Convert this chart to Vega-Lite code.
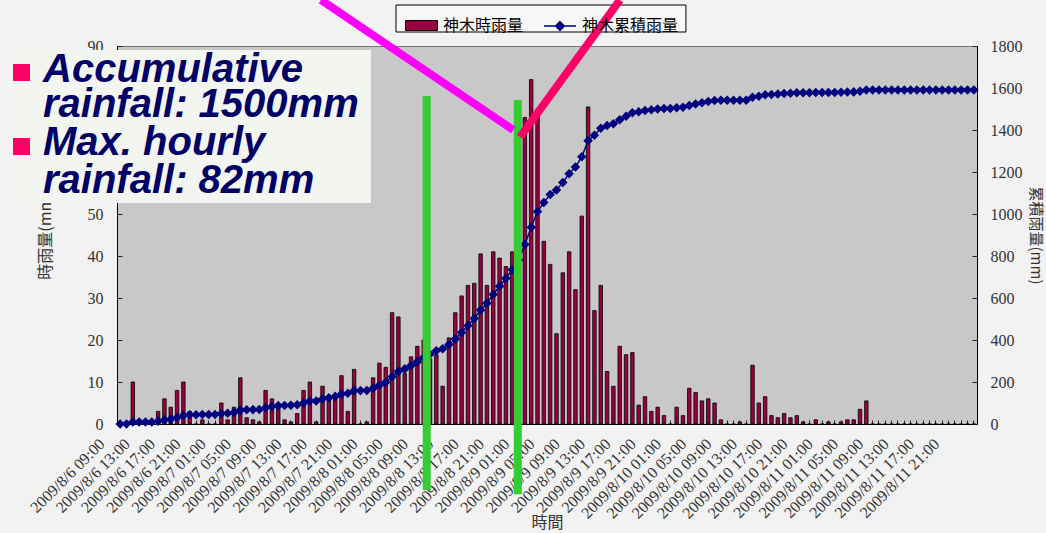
{
  "$schema": "https://vega.github.io/schema/vega-lite/v6.json",
  "width": 860,
  "height": 378,
  "autosize": {"type": "none"},
  "padding": {"left": 117, "top": 46, "right": 69, "bottom": 109},
  "background": "#f2f2f2",
  "config": {
    "view": {"fill": "#c8c8c8", "stroke": "#777777", "strokeWidth": 1},
    "axis": {"grid": false, "domainColor": "#000000", "domainWidth": 1, "tickColor": "#222222"}
  },
  "datasets": {
    "rain": [
      {"t": "2009/8/6 09:00", "r": 0, "c": 0},
      {"t": "2009/8/6 10:00", "r": 0, "c": 0},
      {"t": "2009/8/6 11:00", "r": 10, "c": 10},
      {"t": "2009/8/6 12:00", "r": 0, "c": 10},
      {"t": "2009/8/6 13:00", "r": 0, "c": 10},
      {"t": "2009/8/6 14:00", "r": 0, "c": 10},
      {"t": "2009/8/6 15:00", "r": 3, "c": 13},
      {"t": "2009/8/6 16:00", "r": 6, "c": 19},
      {"t": "2009/8/6 17:00", "r": 4, "c": 23},
      {"t": "2009/8/6 18:00", "r": 8, "c": 31},
      {"t": "2009/8/6 19:00", "r": 10, "c": 41},
      {"t": "2009/8/6 20:00", "r": 3, "c": 44},
      {"t": "2009/8/6 21:00", "r": 0, "c": 44},
      {"t": "2009/8/6 22:00", "r": 1, "c": 45},
      {"t": "2009/8/6 23:00", "r": 0, "c": 45},
      {"t": "2009/8/7 00:00", "r": 0, "c": 45},
      {"t": "2009/8/7 01:00", "r": 5, "c": 50},
      {"t": "2009/8/7 02:00", "r": 1, "c": 51},
      {"t": "2009/8/7 03:00", "r": 4, "c": 55},
      {"t": "2009/8/7 04:00", "r": 11, "c": 66},
      {"t": "2009/8/7 05:00", "r": 1.5, "c": 67.5},
      {"t": "2009/8/7 06:00", "r": 1, "c": 68.5},
      {"t": "2009/8/7 07:00", "r": 0.5, "c": 69},
      {"t": "2009/8/7 08:00", "r": 8, "c": 77},
      {"t": "2009/8/7 09:00", "r": 6, "c": 83},
      {"t": "2009/8/7 10:00", "r": 4.5, "c": 87.5},
      {"t": "2009/8/7 11:00", "r": 1, "c": 88.5},
      {"t": "2009/8/7 12:00", "r": 0.5, "c": 89},
      {"t": "2009/8/7 13:00", "r": 2.5, "c": 91.5},
      {"t": "2009/8/7 14:00", "r": 8, "c": 99.5},
      {"t": "2009/8/7 15:00", "r": 10, "c": 109.5},
      {"t": "2009/8/7 16:00", "r": 0.5, "c": 110},
      {"t": "2009/8/7 17:00", "r": 9, "c": 119},
      {"t": "2009/8/7 18:00", "r": 6, "c": 125},
      {"t": "2009/8/7 19:00", "r": 6.5, "c": 131.5},
      {"t": "2009/8/7 20:00", "r": 11.5, "c": 143},
      {"t": "2009/8/7 21:00", "r": 3, "c": 146},
      {"t": "2009/8/7 22:00", "r": 13, "c": 159},
      {"t": "2009/8/7 23:00", "r": 0, "c": 159},
      {"t": "2009/8/8 00:00", "r": 0.5, "c": 159.5},
      {"t": "2009/8/8 01:00", "r": 11, "c": 170.5},
      {"t": "2009/8/8 02:00", "r": 14.5, "c": 185},
      {"t": "2009/8/8 03:00", "r": 13.5, "c": 198.5},
      {"t": "2009/8/8 04:00", "r": 26.5, "c": 225},
      {"t": "2009/8/8 05:00", "r": 25.5, "c": 250.5},
      {"t": "2009/8/8 06:00", "r": 12, "c": 262.5},
      {"t": "2009/8/8 07:00", "r": 16, "c": 278.5},
      {"t": "2009/8/8 08:00", "r": 18.5, "c": 297},
      {"t": "2009/8/8 09:00", "r": 20, "c": 317},
      {"t": "2009/8/8 10:00", "r": 15.5, "c": 332.5},
      {"t": "2009/8/8 11:00", "r": 16.5, "c": 349},
      {"t": "2009/8/8 12:00", "r": 9, "c": 358},
      {"t": "2009/8/8 13:00", "r": 20.5, "c": 378.5},
      {"t": "2009/8/8 14:00", "r": 26.5, "c": 405},
      {"t": "2009/8/8 15:00", "r": 30.5, "c": 435.5},
      {"t": "2009/8/8 16:00", "r": 33, "c": 468.5},
      {"t": "2009/8/8 17:00", "r": 33.5, "c": 502},
      {"t": "2009/8/8 18:00", "r": 40.5, "c": 542.5},
      {"t": "2009/8/8 19:00", "r": 33, "c": 575.5},
      {"t": "2009/8/8 20:00", "r": 41, "c": 616.5},
      {"t": "2009/8/8 21:00", "r": 39.5, "c": 656},
      {"t": "2009/8/8 22:00", "r": 37.5, "c": 693.5},
      {"t": "2009/8/8 23:00", "r": 41, "c": 734.5},
      {"t": "2009/8/9 00:00", "r": 47, "c": 781.5},
      {"t": "2009/8/9 01:00", "r": 73, "c": 854.5},
      {"t": "2009/8/9 02:00", "r": 82, "c": 936.5},
      {"t": "2009/8/9 03:00", "r": 75, "c": 1011.5},
      {"t": "2009/8/9 04:00", "r": 43.5, "c": 1055},
      {"t": "2009/8/9 05:00", "r": 38, "c": 1093},
      {"t": "2009/8/9 06:00", "r": 21.5, "c": 1114.5},
      {"t": "2009/8/9 07:00", "r": 36, "c": 1150.5},
      {"t": "2009/8/9 08:00", "r": 41, "c": 1191.5},
      {"t": "2009/8/9 09:00", "r": 32, "c": 1223.5},
      {"t": "2009/8/9 10:00", "r": 49.5, "c": 1273},
      {"t": "2009/8/9 11:00", "r": 75.5, "c": 1348.5},
      {"t": "2009/8/9 12:00", "r": 27, "c": 1375.5},
      {"t": "2009/8/9 13:00", "r": 33, "c": 1408.5},
      {"t": "2009/8/9 14:00", "r": 12.5, "c": 1421},
      {"t": "2009/8/9 15:00", "r": 9, "c": 1430},
      {"t": "2009/8/9 16:00", "r": 18.5, "c": 1448.5},
      {"t": "2009/8/9 17:00", "r": 16.5, "c": 1465},
      {"t": "2009/8/9 18:00", "r": 17, "c": 1482},
      {"t": "2009/8/9 19:00", "r": 4.5, "c": 1486.5},
      {"t": "2009/8/9 20:00", "r": 6.5, "c": 1493},
      {"t": "2009/8/9 21:00", "r": 3, "c": 1496},
      {"t": "2009/8/9 22:00", "r": 4, "c": 1500},
      {"t": "2009/8/9 23:00", "r": 2, "c": 1502},
      {"t": "2009/8/10 00:00", "r": 0, "c": 1502},
      {"t": "2009/8/10 01:00", "r": 4, "c": 1506},
      {"t": "2009/8/10 02:00", "r": 2, "c": 1508},
      {"t": "2009/8/10 03:00", "r": 8.5, "c": 1516.5},
      {"t": "2009/8/10 04:00", "r": 7.5, "c": 1524},
      {"t": "2009/8/10 05:00", "r": 5.5, "c": 1529.5},
      {"t": "2009/8/10 06:00", "r": 6, "c": 1535.5},
      {"t": "2009/8/10 07:00", "r": 5, "c": 1540.5},
      {"t": "2009/8/10 08:00", "r": 1, "c": 1541.5},
      {"t": "2009/8/10 09:00", "r": 0, "c": 1541.5},
      {"t": "2009/8/10 10:00", "r": 0, "c": 1541.5},
      {"t": "2009/8/10 11:00", "r": 0.5, "c": 1542},
      {"t": "2009/8/10 12:00", "r": 0, "c": 1542},
      {"t": "2009/8/10 13:00", "r": 14, "c": 1556},
      {"t": "2009/8/10 14:00", "r": 5, "c": 1561},
      {"t": "2009/8/10 15:00", "r": 6.5, "c": 1567.5},
      {"t": "2009/8/10 16:00", "r": 2, "c": 1569.5},
      {"t": "2009/8/10 17:00", "r": 1.5, "c": 1571},
      {"t": "2009/8/10 18:00", "r": 2.5, "c": 1573.5},
      {"t": "2009/8/10 19:00", "r": 1.5, "c": 1575},
      {"t": "2009/8/10 20:00", "r": 2, "c": 1577},
      {"t": "2009/8/10 21:00", "r": 0.5, "c": 1577.5},
      {"t": "2009/8/10 22:00", "r": 0, "c": 1577.5},
      {"t": "2009/8/10 23:00", "r": 1, "c": 1578.5},
      {"t": "2009/8/11 00:00", "r": 0, "c": 1578.5},
      {"t": "2009/8/11 01:00", "r": 0.5, "c": 1579},
      {"t": "2009/8/11 02:00", "r": 0, "c": 1579},
      {"t": "2009/8/11 03:00", "r": 0.5, "c": 1579.5},
      {"t": "2009/8/11 04:00", "r": 1, "c": 1580.5},
      {"t": "2009/8/11 05:00", "r": 1, "c": 1581.5},
      {"t": "2009/8/11 06:00", "r": 3.5, "c": 1585},
      {"t": "2009/8/11 07:00", "r": 5.5, "c": 1590.5},
      {"t": "2009/8/11 08:00", "r": 0, "c": 1590.5},
      {"t": "2009/8/11 09:00", "r": 0, "c": 1590.5},
      {"t": "2009/8/11 10:00", "r": 0, "c": 1590.5},
      {"t": "2009/8/11 11:00", "r": 0, "c": 1590.5},
      {"t": "2009/8/11 12:00", "r": 0, "c": 1590.5},
      {"t": "2009/8/11 13:00", "r": 0, "c": 1590.5},
      {"t": "2009/8/11 14:00", "r": 0, "c": 1590.5},
      {"t": "2009/8/11 15:00", "r": 0, "c": 1590.5},
      {"t": "2009/8/11 16:00", "r": 0, "c": 1590.5},
      {"t": "2009/8/11 17:00", "r": 0, "c": 1590.5},
      {"t": "2009/8/11 18:00", "r": 0, "c": 1590.5},
      {"t": "2009/8/11 19:00", "r": 0, "c": 1590.5},
      {"t": "2009/8/11 20:00", "r": 0, "c": 1590.5},
      {"t": "2009/8/11 21:00", "r": 0, "c": 1590.5},
      {"t": "2009/8/11 22:00", "r": 0, "c": 1590.5},
      {"t": "2009/8/11 23:00", "r": 0, "c": 1590.5},
      {"t": "2009/8/12 00:00", "r": 0, "c": 1590.5}
    ],
    "legendbox": [{"x": 44.12, "x2": 89.97, "y": 99.76, "y2": 93.33}],
    "textbox": [{"x": -17.24, "x2": 40.16, "y": 89.05, "y2": 52.62}],
    "bullets": [
      {"x": -16.45, "x2": -13.76, "y": 85.71, "y2": 81.67},
      {"x": -16.45, "x2": -13.76, "y": 68.1, "y2": 64.05}
    ],
    "magenta": [{"x": 32.26, "y": 100.95, "x2": 62.67, "y2": 70.0}],
    "pinkline": [{"x": 63.73, "y": 68.33, "x2": 79.54, "y2": 100.95}],
    "greens": [
      {"x": 48.98, "y": 78.1, "y2": -15.7},
      {"x": 63.38, "y": 77.14, "y2": -16.7}
    ],
    "texts": [
      {"label": "Accumulative", "x": -11.7, "y": 81.43},
      {"label": "rainfall: 1500mm", "x": -11.7, "y": 73.1},
      {"label": "Max. hourly", "x": -11.7, "y": 64.05},
      {"label": "rainfall: 82mm", "x": -11.7, "y": 55.0}
    ]
  },
  "layer": [
    {
      "data": {"name": "rain"},
      "encoding": {
        "x": {
          "field": "t",
          "type": "ordinal",
          "sort": null,
          "scale": {"type": "band", "paddingInner": 0, "paddingOuter": 0},
          "axis": {
            "title": "時間",
            "titleFont": "Noto Sans CJK TC",
            "titleFontSize": 16,
            "titleFontWeight": "normal",
            "titleColor": "#333333",
            "titleY": 98,
            "titleBaseline": "middle",
            "labelAngle": -45,
            "labelAlign": "right",
            "labelBaseline": "middle",
            "labelFont": "Liberation Serif",
            "labelFontSize": 16,
            "labelColor": "#333333",
            "labelOverlap": false,
            "labelBound": false,
            "labelPadding": 21,
            "labelOffset": -18,
            "labelExpr": "toNumber(slice(datum.value, -5, -3)) % 4 == 1 ? datum.value : ''",
            "tickSize": -4
          }
        }
      },
      "layer": [
        {
          "mark": {"type": "bar", "width": {"band": 0.55}, "stroke": "#000000", "strokeWidth": 0.8},
          "encoding": {
            "y": {
              "field": "r",
              "type": "quantitative",
              "scale": {"domain": [0, 90], "nice": false},
              "axis": {
                "orient": "left",
                "values": [0, 10, 20, 30, 40, 50, 90],
                "title": "時雨量(mm)",
                "titleFont": "Noto Sans CJK TC",
                "titleFontSize": 16,
                "titleFontWeight": "normal",
                "titleColor": "#333333",
                "titleX": -72,
                "titleY": 189,
                "titleAngle": -90,
                "titleAlign": "center",
                "titleBaseline": "middle",
                "labelFont": "Liberation Serif",
                "labelFontSize": 16,
                "labelColor": "#333333",
                "labelPadding": 19,
                "tickSize": -5
              }
            },
            "fill": {
              "datum": "神木時雨量",
              "type": "nominal",
              "scale": {"range": ["#990040"]},
              "legend": {
                "orient": "none",
                "legendX": 288,
                "legendY": -37,
                "title": null,
                "padding": 0,
                "symbolType": "M-1,-0.31H1V0.31H-1Z",
                "symbolSize": 1024,
                "symbolStrokeColor": "#000000",
                "symbolStrokeWidth": 1,
                "labelFont": "Noto Sans CJK TC",
                "labelFontSize": 16,
                "labelColor": "#000000",
                "labelOffset": 5
              }
            }
          }
        },
        {
          "encoding": {
            "y": {
              "field": "c",
              "type": "quantitative",
              "scale": {"domain": [0, 1800], "nice": false},
              "axis": {
                "orient": "right",
                "values": [0, 200, 400, 600, 800, 1000, 1200, 1400, 1600, 1800],
                "format": "d",
                "title": "累積雨量(mm)",
                "titleFont": "Noto Sans CJK TC",
                "titleFontSize": 15,
                "titleFontWeight": "normal",
                "titleColor": "#333333",
                "titleX": 58,
                "titleY": 189,
                "titleAngle": 90,
                "titleAlign": "center",
                "titleBaseline": "middle",
                "labelFont": "Liberation Serif",
                "labelFontSize": 16,
                "labelColor": "#333333",
                "labelPadding": 18,
                "tickSize": -5
              }
            },
            "stroke": {
              "datum": "神木累積雨量",
              "type": "nominal",
              "scale": {"range": ["#000080"]},
              "legend": {
                "orient": "none",
                "legendX": 426,
                "legendY": -37,
                "title": null,
                "padding": 0,
                "symbolType": "M-1,0H1M0,-0.27L0.27,0L0,0.27L-0.27,0Z",
                "symbolSize": 1024,
                "symbolStrokeWidth": 1.5,
                "symbolFillColor": "#000080",
                "labelFont": "Noto Sans CJK TC",
                "labelFontSize": 16,
                "labelColor": "#000000",
                "labelOffset": 5
              }
            }
          },
          "layer": [
            {"mark": {"type": "line", "strokeWidth": 1.5}},
            {"mark": {"type": "point", "shape": "diamond", "filled": true, "size": 45, "fill": "#000080", "opacity": 1}}
          ]
        }
      ],
      "resolve": {"scale": {"y": "independent"}}
    },
    {
      "layer": [
        {
          "data": {"name": "legendbox"},
          "mark": {"type": "rect", "fill": "#f7f7f7", "stroke": "#000000", "strokeWidth": 1},
          "encoding": {
            "x": {"field": "x", "type": "quantitative", "scale": {"domain": [0, 136], "nice": false, "zero": false}, "axis": null},
            "x2": {"field": "x2"},
            "y": {"field": "y", "type": "quantitative", "scale": {"domain": [0, 90], "nice": false, "zero": false}, "axis": null},
            "y2": {"field": "y2"}
          }
        },
        {
          "data": {"name": "textbox"},
          "mark": {"type": "rect", "fill": "#f3f5f0"},
          "encoding": {
            "x": {"field": "x", "type": "quantitative", "axis": null},
            "x2": {"field": "x2"},
            "y": {"field": "y", "type": "quantitative", "axis": null},
            "y2": {"field": "y2"}
          }
        },
        {
          "data": {"name": "bullets"},
          "mark": {"type": "rect", "fill": "#ff0066"},
          "encoding": {
            "x": {"field": "x", "type": "quantitative", "axis": null},
            "x2": {"field": "x2"},
            "y": {"field": "y", "type": "quantitative", "axis": null},
            "y2": {"field": "y2"}
          }
        },
        {
          "data": {"name": "texts"},
          "mark": {"type": "text", "font": "Liberation Sans", "fontWeight": "bold", "fontStyle": "italic", "fontSize": 40, "fill": "#000066", "align": "left", "baseline": "alphabetic"},
          "encoding": {
            "x": {"field": "x", "type": "quantitative", "axis": null},
            "y": {"field": "y", "type": "quantitative", "axis": null},
            "text": {"field": "label"}
          }
        },
        {
          "data": {"name": "greens"},
          "mark": {"type": "rule", "stroke": "#33cc33", "strokeWidth": 8},
          "encoding": {
            "x": {"field": "x", "type": "quantitative", "axis": null},
            "y": {"field": "y", "type": "quantitative", "axis": null},
            "y2": {"field": "y2"}
          }
        },
        {
          "data": {"name": "magenta"},
          "mark": {"type": "rule", "stroke": "#ff00ff", "strokeWidth": 8},
          "encoding": {
            "x": {"field": "x", "type": "quantitative", "axis": null},
            "y": {"field": "y", "type": "quantitative", "axis": null},
            "x2": {"field": "x2"},
            "y2": {"field": "y2"}
          }
        },
        {
          "data": {"name": "pinkline"},
          "mark": {"type": "rule", "stroke": "#ff0066", "strokeWidth": 8},
          "encoding": {
            "x": {"field": "x", "type": "quantitative", "axis": null},
            "y": {"field": "y", "type": "quantitative", "axis": null},
            "x2": {"field": "x2"},
            "y2": {"field": "y2"}
          }
        }
      ]
    }
  ],
  "resolve": {"scale": {"x": "independent", "y": "independent"}}
}
